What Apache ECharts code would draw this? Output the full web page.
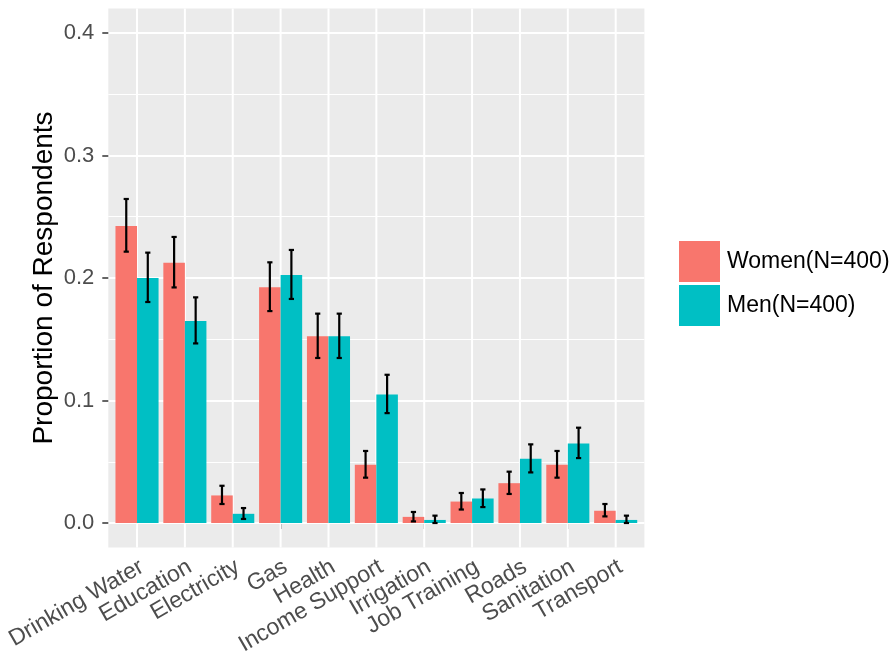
<!DOCTYPE html>
<html>
<head>
<meta charset="utf-8">
<script src="https://cdn.jsdelivr.net/npm/echarts@6/dist/echarts.min.js"></script>
<style>html,body{margin:0;padding:0;background:#fff}#c{width:892px;height:658px}</style>
</head>
<body>
<div id="c"></div>
<script>
// ---- data ----
const categories = ['Drinking Water','Education','Electricity','Gas','Health','Income Support','Irrigation','Job Training','Roads','Sanitation','Transport'];
const seriesNames = ['Women(N=400)','Men(N=400)'];
const women = [0.2425, 0.2125, 0.0225, 0.1925, 0.1525, 0.0475, 0.005, 0.0175, 0.0325, 0.0475, 0.01];
const men   = [0.2, 0.165, 0.0075, 0.2025, 0.1525, 0.105, 0.0025, 0.02, 0.0525, 0.065, 0.0025];
const womenLow  = [0.2215, 0.1923, 0.0155, 0.173, 0.1347, 0.037, 0.0013, 0.011, 0.0237, 0.037, 0.0054];
const womenHigh = [0.2645, 0.2335, 0.0304, 0.2128, 0.1709, 0.0588, 0.009, 0.0245, 0.0419, 0.0588, 0.0155];
const menLow  = [0.1804, 0.1466, 0.0033, 0.1829, 0.1347, 0.0897, 0.0, 0.013, 0.0413, 0.053, 0.0];
const menHigh = [0.2207, 0.1842, 0.0122, 0.2229, 0.1709, 0.121, 0.006, 0.0274, 0.0642, 0.0778, 0.006];
const yTicks = [0, 0.1, 0.2, 0.3, 0.4];
const yTitle = 'Proportion of Respondents';

// ---- layout ----
const FONT = 'Liberation Sans, Arial, Helvetica, sans-serif';
const panelLeft = 108.3, panelTop = 8.5, panelW = 536.1, panelH = 539;
const step = panelW / (categories.length + 0.2); // ggplot discrete expansion 0.6 each side
const dataLeft = panelLeft + 0.1 * step;
const dataW = step * categories.length;
const labelShift = 5;
const yMinPanel = -0.02, yMaxPanel = 0.42;
const zeroY = panelTop + panelH * (yMaxPanel - 0) / (yMaxPanel - yMinPanel);
const fourY = panelTop + panelH * (yMaxPanel - 0.4) / (yMaxPanel - yMinPanel);

const errData = [];
for (let i = 0; i < categories.length; i++) {
  errData.push([i, womenLow[i], womenHigh[i], -1]);
  errData.push([i, menLow[i], menHigh[i], 1]);
}

const chart = echarts.init(document.getElementById('c'), null, {renderer: 'canvas'});
chart.setOption({
  animation: false,
  textStyle: {fontFamily: FONT},
  legend: {
    data: seriesNames,
    orient: 'vertical',
    left: 679, top: 241,
    padding: 0,
    itemWidth: 41, itemHeight: 41, itemGap: 3,
    icon: 'rect',
    textStyle: {fontSize: 23, color: '#000', fontFamily: FONT, padding: [0, 0, 0, 2]}
  },
  grid: [
    {left: panelLeft, top: panelTop, width: panelW, height: panelH, show: true, backgroundColor: '#EBEBEB', borderWidth: 0, containLabel: false},
    {left: panelLeft, top: fourY, width: panelW, height: zeroY - fourY, containLabel: false},
    {left: dataLeft, top: panelTop, width: dataW, height: panelH, containLabel: false},
    {left: dataLeft + labelShift, top: panelTop, width: dataW, height: panelH, containLabel: false}
  ],
  xAxis: [
    {gridIndex: 0, type: 'value', show: false, min: 0, max: 1},
    {gridIndex: 1, type: 'value', show: false, min: 0, max: 1},
    {gridIndex: 2, type: 'category', data: categories, position: 'bottom',
      axisLine: {show: false},
      axisTick: {show: true, alignWithLabel: true, length: 6, lineStyle: {color: '#333', width: 1.5}},
      axisLabel: {show: false},
      splitLine: {show: false}},
    {gridIndex: 3, type: 'category', data: categories, position: 'bottom',
      axisLine: {show: false},
      axisTick: {show: false},
      axisLabel: {interval: 0, rotate: 30, fontSize: 23, color: '#4D4D4D', margin: 19, fontFamily: FONT},
      splitLine: {show: false}}
  ],
  yAxis: [
    {gridIndex: 0, type: 'value', show: false, min: 0, max: 1},
    {gridIndex: 1, type: 'value', min: 0, max: 0.4, interval: 0.1, z: 1,
      name: yTitle, nameLocation: 'middle', nameGap: 50, nameMoveOverlap: false,
      nameTextStyle: {fontSize: 28, color: '#000', fontFamily: FONT},
      axisLine: {show: false},
      axisTick: {show: true, length: 6, lineStyle: {color: '#333', width: 1.5}},
      axisLabel: {fontSize: 22, color: '#4D4D4D', margin: 14, fontFamily: FONT,
        formatter: v => (yTicks.indexOf(Math.round(v*10)/10) >= 0 ? v.toFixed(1) : '')},
      splitLine: {show: true, lineStyle: {color: '#FFFFFF', width: 2}},
      minorTick: {show: false, splitNumber: 2},
      minorSplitLine: {show: true, lineStyle: {color: '#FFFFFF', width: 1}}},
    {gridIndex: 2, type: 'value', show: false, min: yMinPanel, max: yMaxPanel, splitLine: {show: false}},
    {gridIndex: 3, type: 'value', show: false, min: yMinPanel, max: yMaxPanel, splitLine: {show: false}}
  ],
  series: [
    {
      type: 'custom', name: 'vgrid', xAxisIndex: 2, yAxisIndex: 2, z: 1, silent: true,
      data: categories.map((c, i) => [i]),
      encode: {x: 0},
      renderItem: (params, api) => {
        const p = api.coord([api.value(0), 0]);
        const cs = params.coordSys;
        return {type: 'line', shape: {x1: p[0], y1: cs.y, x2: p[0], y2: cs.y + cs.height},
          style: {stroke: '#FFFFFF', lineWidth: 2}};
      }
    },
    {name: seriesNames[0], type: 'bar', xAxisIndex: 2, yAxisIndex: 2, data: women, z: 2,
      barWidth: 0.45 * step, barGap: '0%', itemStyle: {color: '#F8766D'}},
    {name: seriesNames[1], type: 'bar', xAxisIndex: 2, yAxisIndex: 2, data: men, z: 2,
      barWidth: 0.45 * step, barGap: '0%', itemStyle: {color: '#00BFC4'}},
    {
      type: 'custom', name: 'err', xAxisIndex: 2, yAxisIndex: 2, z: 3, silent: true,
      data: errData,
      encode: {x: 0, y: [1, 2]},
      renderItem: (params, api) => {
        const idx = api.value(0);
        const lo = api.coord([idx, api.value(1)]);
        const hi = api.coord([idx, api.value(2)]);
        const band = api.size([1, 0])[0];
        const x = lo[0] + api.value(3) * band * 0.225;
        const hw = 2.6;
        const st = {stroke: '#000', lineWidth: 2.2};
        return {type: 'group', children: [
          {type: 'line', shape: {x1: x, y1: lo[1], x2: x, y2: hi[1]}, style: st},
          {type: 'line', shape: {x1: x - hw, y1: lo[1], x2: x + hw, y2: lo[1]}, style: st},
          {type: 'line', shape: {x1: x - hw, y1: hi[1], x2: x + hw, y2: hi[1]}, style: st}
        ]};
      }
    }
  ]
});
</script>
</body>
</html>
